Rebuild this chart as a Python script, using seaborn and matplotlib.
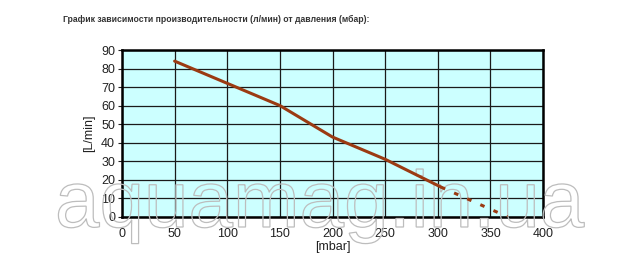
import matplotlib
matplotlib.use("Agg")
import matplotlib.pyplot as plt
from matplotlib.textpath import TextPath
from matplotlib.patches import PathPatch
from matplotlib.font_manager import FontProperties
from matplotlib.transforms import Affine2D
import seaborn as sns
import pandas as pd

pressure_solid = [50, 100, 150, 200, 250, 303]
flow_solid = [84, 72, 60, 43, 31, 16]
pressure_dash = [303, 366]
flow_dash = [16, 0]
x_ticks = [0, 50, 100, 150, 200, 250, 300, 350, 400]
y_ticks = [0, 10, 20, 30, 40, 50, 60, 70, 80, 90]

sns.set_theme(style="white")
plt.rcParams['font.family'] = ['Liberation Sans', 'DejaVu Sans']

fig = plt.figure(figsize=(6.4, 2.61), dpi=100)
ax = fig.add_axes([0.1906, 0.1697, 0.658, 0.6387])
ax.set_facecolor('#CCFFFF')

line_color = '#9B3A12'
df_s = pd.DataFrame({'p': pressure_solid, 'q': flow_solid})
df_d = pd.DataFrame({'p': pressure_dash, 'q': flow_dash})
sns.lineplot(data=df_s, x='p', y='q', ax=ax, color=line_color, linewidth=2.2, zorder=4)
sns.lineplot(data=df_d, x='p', y='q', ax=ax, color=line_color, linewidth=2.2,
             linestyle=(0, (1.5, 3.2)), zorder=4)

ax.set_xlim(0, 400)
ax.set_ylim(0, 90)
ax.set_xticks(x_ticks)
ax.set_yticks(y_ticks)
ax.grid(True, color='#1a1a1a', linewidth=0.9)
ax.set_axisbelow(True)
for s in ax.spines.values():
    s.set_visible(True)
    s.set_color('black')
    s.set_linewidth(1.8)
ax.tick_params(axis='both', labelsize=9, colors='#222222', length=3, width=0.8,
               direction='out', bottom=False, left=True, pad=2)
ax.tick_params(axis='x', pad=5)
ax.set_xlabel('[mbar]', fontsize=9, color='#222222', labelpad=1)
ax.set_ylabel('[L/min]', fontsize=9, color='#222222', labelpad=4)

fig.text(0.098, 0.925, 'График зависимости производительности (л/мин) от давления (мбар):',
         fontsize=6.2, fontweight='bold', color='#333333', va='center', ha='left')

# watermark as hollow outlined lettering
tp = TextPath((0, 0), 'aquamag.in.ua', size=80, prop=FontProperties(family='Liberation Sans'))
wm_tr = Affine2D().scale(0.01).translate(0.55, 0.34) + fig.dpi_scale_trans
wm = PathPatch(tp, facecolor='none', edgecolor='#bdbdbd', linewidth=0.9,
               transform=wm_tr, clip_on=False, zorder=3)
ax.add_artist(wm)

fig.savefig('out.png', dpi=100, facecolor='white')
